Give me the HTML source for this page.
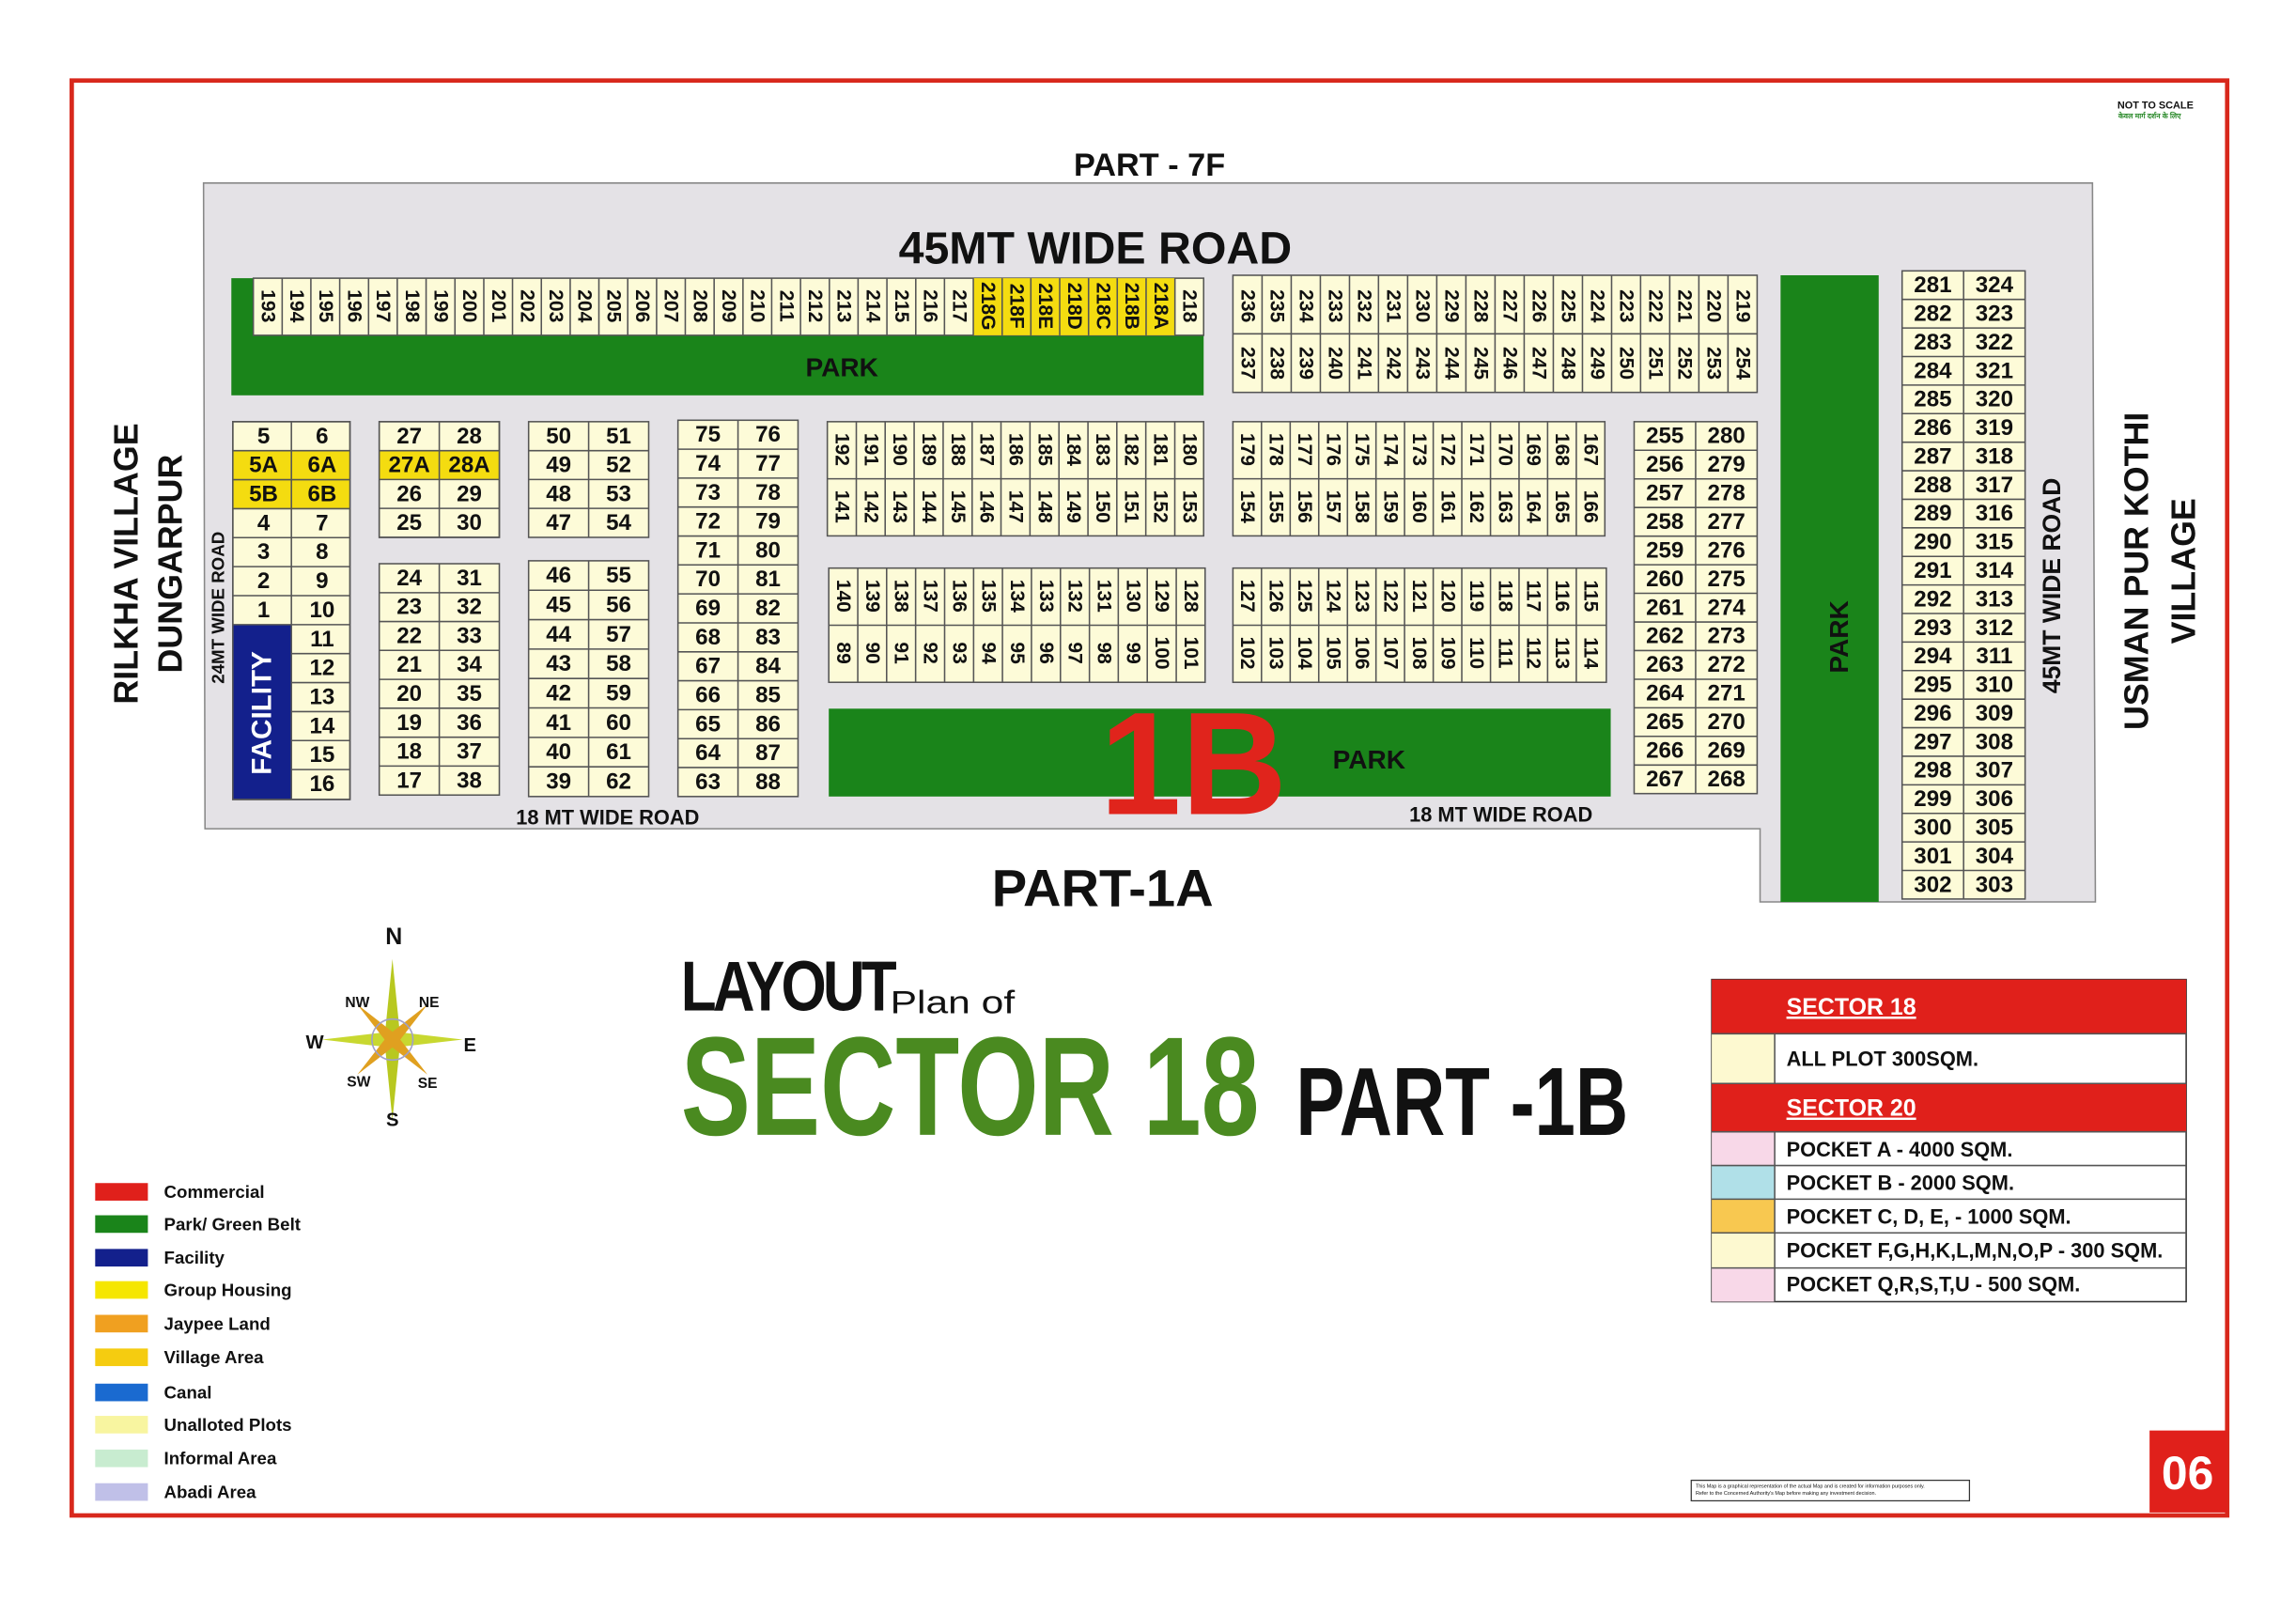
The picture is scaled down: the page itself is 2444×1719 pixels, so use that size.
<!DOCTYPE html>
<html><head><meta charset="utf-8"><style>
html,body{margin:0;padding:0;background:#fff}
svg{display:block}
text{font-family:"Liberation Sans",sans-serif;font-weight:bold;fill:#111}
.h{font-size:15.5px;text-anchor:middle;dominant-baseline:central}
.v{font-size:13.5px;text-anchor:middle;dominant-baseline:central}
.cell{fill:#fdfbd8;stroke:#555;stroke-width:1}
.grid{stroke:#555;stroke-width:1;fill:none}
.lg{font-size:12px;dominant-baseline:central}
</style></head><body>
<svg width="2444" height="1719" viewBox="0 0 1568 1103" preserveAspectRatio="none" xmlns="http://www.w3.org/2000/svg">
<rect x="0" y="0" width="1568" height="1103" fill="#fff"/>
<rect x="49" y="55" width="1472" height="980" fill="none" stroke="#d8281c" stroke-width="3"/>
<text x="1472" y="74" style="font-size:7px" text-anchor="middle">NOT TO SCALE</text>
<text x="1468" y="81" style="font-size:5px;fill:#2a8a2a" text-anchor="middle">केवल मार्ग दर्शन के लिए</text>
<text x="785" y="120" style="font-size:22px" text-anchor="middle">PART - 7F</text>
<polygon points="139,125 1429,125 1431,616 1202,616 1202,566 140,566" fill="#e4e2e6" stroke="#888" stroke-width="1"/>
<text x="748" y="180" style="font-size:31px" text-anchor="middle">45MT WIDE ROAD</text>

<!-- top row -->
<rect x="158" y="190" width="664" height="80" fill="#1a841a"/>
<rect x="173" y="190" width="649" height="39" class="cell"/>
<rect x="664.7" y="190" width="137.7" height="39" fill="#f4dc10"/>
<path class="grid" d="M192.7 190V229M212.3 190V229M232 190V229M251.7 190V229M271.3 190V229M291 190V229M310.7 190V229M330.4 190V229M350 190V229M369.7 190V229M389.4 190V229M409 190V229M428.7 190V229M448.4 190V229M468 190V229M487.7 190V229M507.4 190V229M527 190V229M546.7 190V229M566.4 190V229M586 190V229M605.7 190V229M625.4 190V229M645 190V229M664.7 190V229M684.4 190V229M704 190V229M723.7 190V229M743.4 190V229M763 190V229M782.7 190V229M802.4 190V229"/>
<g class="v">
<text class="v" transform="translate(182.8,209) rotate(90)">193</text><text class="v" transform="translate(202.5,209) rotate(90)">194</text><text class="v" transform="translate(222.2,209) rotate(90)">195</text><text class="v" transform="translate(241.8,209) rotate(90)">196</text><text class="v" transform="translate(261.5,209) rotate(90)">197</text><text class="v" transform="translate(281.2,209) rotate(90)">198</text><text class="v" transform="translate(300.8,209) rotate(90)">199</text><text class="v" transform="translate(320.5,209) rotate(90)">200</text><text class="v" transform="translate(340.2,209) rotate(90)">201</text><text class="v" transform="translate(359.8,209) rotate(90)">202</text><text class="v" transform="translate(379.5,209) rotate(90)">203</text><text class="v" transform="translate(399.2,209) rotate(90)">204</text><text class="v" transform="translate(418.8,209) rotate(90)">205</text><text class="v" transform="translate(438.5,209) rotate(90)">206</text><text class="v" transform="translate(458.2,209) rotate(90)">207</text><text class="v" transform="translate(477.9,209) rotate(90)">208</text><text class="v" transform="translate(497.5,209) rotate(90)">209</text><text class="v" transform="translate(517.2,209) rotate(90)">210</text><text class="v" transform="translate(536.9,209) rotate(90)">211</text><text class="v" transform="translate(556.5,209) rotate(90)">212</text><text class="v" transform="translate(576.2,209) rotate(90)">213</text><text class="v" transform="translate(595.9,209) rotate(90)">214</text><text class="v" transform="translate(615.5,209) rotate(90)">215</text><text class="v" transform="translate(635.2,209) rotate(90)">216</text><text class="v" transform="translate(654.9,209) rotate(90)">217</text><text class="v" transform="translate(674.5,209) rotate(90)">218G</text><text class="v" transform="translate(694.2,209) rotate(90)">218F</text><text class="v" transform="translate(713.9,209) rotate(90)">218E</text><text class="v" transform="translate(733.6,209) rotate(90)">218D</text><text class="v" transform="translate(753.2,209) rotate(90)">218C</text><text class="v" transform="translate(772.9,209) rotate(90)">218B</text><text class="v" transform="translate(792.6,209) rotate(90)">218A</text><text class="v" transform="translate(812.2,209) rotate(90)">218</text>
</g>
<text x="575" y="257" style="font-size:18px" text-anchor="middle">PARK</text>

<!-- right top block -->
<rect x="842" y="188" width="358" height="80" class="cell"/>
<path class="grid" d="M842 228H1200M861.9 188V268M881.8 188V268M901.7 188V268M921.6 188V268M941.4 188V268M961.3 188V268M981.2 188V268M1001.1 188V268M1021 188V268M1040.9 188V268M1060.8 188V268M1080.7 188V268M1100.6 188V268M1120.4 188V268M1140.3 188V268M1160.2 188V268M1180.1 188V268"/>
<text class="v" transform="translate(852,209) rotate(90)">236</text><text class="v" transform="translate(871.9,209) rotate(90)">235</text><text class="v" transform="translate(891.8,209) rotate(90)">234</text><text class="v" transform="translate(911.7,209) rotate(90)">233</text><text class="v" transform="translate(931.6,209) rotate(90)">232</text><text class="v" transform="translate(951.5,209) rotate(90)">231</text><text class="v" transform="translate(971.3,209) rotate(90)">230</text><text class="v" transform="translate(991.2,209) rotate(90)">229</text><text class="v" transform="translate(1011.1,209) rotate(90)">228</text><text class="v" transform="translate(1031,209) rotate(90)">227</text><text class="v" transform="translate(1050.9,209) rotate(90)">226</text><text class="v" transform="translate(1070.8,209) rotate(90)">225</text><text class="v" transform="translate(1090.7,209) rotate(90)">224</text><text class="v" transform="translate(1110.6,209) rotate(90)">223</text><text class="v" transform="translate(1130.4,209) rotate(90)">222</text><text class="v" transform="translate(1150.3,209) rotate(90)">221</text><text class="v" transform="translate(1170.2,209) rotate(90)">220</text><text class="v" transform="translate(1190.1,209) rotate(90)">219</text>
<text class="v" transform="translate(852,248) rotate(90)">237</text><text class="v" transform="translate(871.9,248) rotate(90)">238</text><text class="v" transform="translate(891.8,248) rotate(90)">239</text><text class="v" transform="translate(911.7,248) rotate(90)">240</text><text class="v" transform="translate(931.6,248) rotate(90)">241</text><text class="v" transform="translate(951.5,248) rotate(90)">242</text><text class="v" transform="translate(971.3,248) rotate(90)">243</text><text class="v" transform="translate(991.2,248) rotate(90)">244</text><text class="v" transform="translate(1011.1,248) rotate(90)">245</text><text class="v" transform="translate(1031,248) rotate(90)">246</text><text class="v" transform="translate(1050.9,248) rotate(90)">247</text><text class="v" transform="translate(1070.8,248) rotate(90)">248</text><text class="v" transform="translate(1090.7,248) rotate(90)">249</text><text class="v" transform="translate(1110.6,248) rotate(90)">250</text><text class="v" transform="translate(1130.4,248) rotate(90)">251</text><text class="v" transform="translate(1150.3,248) rotate(90)">252</text><text class="v" transform="translate(1170.2,248) rotate(90)">253</text><text class="v" transform="translate(1190.1,248) rotate(90)">254</text>

<!-- right park -->
<rect x="1216" y="188" width="67" height="428" fill="#1a841a"/>
<text transform="translate(1262,435) rotate(-90)" style="font-size:18px" text-anchor="middle">PARK</text>

<!-- Block A 192..180 -->
<rect x="565" y="288" width="257" height="78" class="cell"/>
<path class="grid" d="M565 327H822M584.8 288V366M604.5 288V366M624.3 288V366M644.1 288V366M663.9 288V366M683.6 288V366M703.4 288V366M723.2 288V366M743 288V366M762.7 288V366M782.5 288V366M802.3 288V366"/>
<text class="v" transform="translate(574.9,307) rotate(90)">192</text><text class="v" transform="translate(594.7,307) rotate(90)">191</text><text class="v" transform="translate(614.4,307) rotate(90)">190</text><text class="v" transform="translate(634.2,307) rotate(90)">189</text><text class="v" transform="translate(654,307) rotate(90)">188</text><text class="v" transform="translate(673.8,307) rotate(90)">187</text><text class="v" transform="translate(693.5,307) rotate(90)">186</text><text class="v" transform="translate(713.3,307) rotate(90)">185</text><text class="v" transform="translate(733.1,307) rotate(90)">184</text><text class="v" transform="translate(752.9,307) rotate(90)">183</text><text class="v" transform="translate(772.6,307) rotate(90)">182</text><text class="v" transform="translate(792.4,307) rotate(90)">181</text><text class="v" transform="translate(812.2,307) rotate(90)">180</text>
<text class="v" transform="translate(574.9,346) rotate(90)">141</text><text class="v" transform="translate(594.7,346) rotate(90)">142</text><text class="v" transform="translate(614.4,346) rotate(90)">143</text><text class="v" transform="translate(634.2,346) rotate(90)">144</text><text class="v" transform="translate(654,346) rotate(90)">145</text><text class="v" transform="translate(673.8,346) rotate(90)">146</text><text class="v" transform="translate(693.5,346) rotate(90)">147</text><text class="v" transform="translate(713.3,346) rotate(90)">148</text><text class="v" transform="translate(733.1,346) rotate(90)">149</text><text class="v" transform="translate(752.9,346) rotate(90)">150</text><text class="v" transform="translate(772.6,346) rotate(90)">151</text><text class="v" transform="translate(792.4,346) rotate(90)">152</text><text class="v" transform="translate(812.2,346) rotate(90)">153</text>

<!-- Block B 179..167 -->
<rect x="842" y="288" width="254" height="78" class="cell"/>
<path class="grid" d="M842 327H1096M861.5 288V366M881.1 288V366M900.6 288V366M920.2 288V366M939.7 288V366M959.2 288V366M978.8 288V366M998.3 288V366M1017.9 288V366M1037.4 288V366M1056.9 288V366M1076.5 288V366"/>
<text class="v" transform="translate(851.8,307) rotate(90)">179</text><text class="v" transform="translate(871.3,307) rotate(90)">178</text><text class="v" transform="translate(890.9,307) rotate(90)">177</text><text class="v" transform="translate(910.4,307) rotate(90)">176</text><text class="v" transform="translate(929.9,307) rotate(90)">175</text><text class="v" transform="translate(949.5,307) rotate(90)">174</text><text class="v" transform="translate(969,307) rotate(90)">173</text><text class="v" transform="translate(988.6,307) rotate(90)">172</text><text class="v" transform="translate(1008.1,307) rotate(90)">171</text><text class="v" transform="translate(1027.7,307) rotate(90)">170</text><text class="v" transform="translate(1047.2,307) rotate(90)">169</text><text class="v" transform="translate(1066.7,307) rotate(90)">168</text><text class="v" transform="translate(1086.3,307) rotate(90)">167</text>
<text class="v" transform="translate(851.8,346) rotate(90)">154</text><text class="v" transform="translate(871.3,346) rotate(90)">155</text><text class="v" transform="translate(890.9,346) rotate(90)">156</text><text class="v" transform="translate(910.4,346) rotate(90)">157</text><text class="v" transform="translate(929.9,346) rotate(90)">158</text><text class="v" transform="translate(949.5,346) rotate(90)">159</text><text class="v" transform="translate(969,346) rotate(90)">160</text><text class="v" transform="translate(988.6,346) rotate(90)">161</text><text class="v" transform="translate(1008.1,346) rotate(90)">162</text><text class="v" transform="translate(1027.7,346) rotate(90)">163</text><text class="v" transform="translate(1047.2,346) rotate(90)">164</text><text class="v" transform="translate(1066.7,346) rotate(90)">165</text><text class="v" transform="translate(1086.3,346) rotate(90)">166</text>

<!-- Block C 140..128 -->
<rect x="566" y="388" width="257" height="78" class="cell"/>
<path class="grid" d="M566 427H823M585.8 388V466M605.5 388V466M625.3 388V466M645.1 388V466M664.9 388V466M684.6 388V466M704.4 388V466M724.2 388V466M744 388V466M763.7 388V466M783.5 388V466M803.3 388V466"/>
<text class="v" transform="translate(575.9,407) rotate(90)">140</text><text class="v" transform="translate(595.7,407) rotate(90)">139</text><text class="v" transform="translate(615.4,407) rotate(90)">138</text><text class="v" transform="translate(635.2,407) rotate(90)">137</text><text class="v" transform="translate(655,407) rotate(90)">136</text><text class="v" transform="translate(674.8,407) rotate(90)">135</text><text class="v" transform="translate(694.5,407) rotate(90)">134</text><text class="v" transform="translate(714.3,407) rotate(90)">133</text><text class="v" transform="translate(734.1,407) rotate(90)">132</text><text class="v" transform="translate(753.9,407) rotate(90)">131</text><text class="v" transform="translate(773.6,407) rotate(90)">130</text><text class="v" transform="translate(793.4,407) rotate(90)">129</text><text class="v" transform="translate(813.2,407) rotate(90)">128</text>
<text class="v" transform="translate(575.9,446) rotate(90)">89</text><text class="v" transform="translate(595.7,446) rotate(90)">90</text><text class="v" transform="translate(615.4,446) rotate(90)">91</text><text class="v" transform="translate(635.2,446) rotate(90)">92</text><text class="v" transform="translate(655,446) rotate(90)">93</text><text class="v" transform="translate(674.8,446) rotate(90)">94</text><text class="v" transform="translate(694.5,446) rotate(90)">95</text><text class="v" transform="translate(714.3,446) rotate(90)">96</text><text class="v" transform="translate(734.1,446) rotate(90)">97</text><text class="v" transform="translate(753.9,446) rotate(90)">98</text><text class="v" transform="translate(773.6,446) rotate(90)">99</text><text class="v" transform="translate(793.4,446) rotate(90)">100</text><text class="v" transform="translate(813.2,446) rotate(90)">101</text>

<!-- Block D 127..115 -->
<rect x="842" y="388" width="255" height="78" class="cell"/>
<path class="grid" d="M842 427H1097M861.5 388V466M881.1 388V466M900.6 388V466M920.2 388V466M939.7 388V466M959.2 388V466M978.8 388V466M998.3 388V466M1017.9 388V466M1037.4 388V466M1056.9 388V466M1076.5 388V466"/>
<text class="v" transform="translate(851.8,407) rotate(90)">127</text><text class="v" transform="translate(871.3,407) rotate(90)">126</text><text class="v" transform="translate(890.9,407) rotate(90)">125</text><text class="v" transform="translate(910.4,407) rotate(90)">124</text><text class="v" transform="translate(929.9,407) rotate(90)">123</text><text class="v" transform="translate(949.5,407) rotate(90)">122</text><text class="v" transform="translate(969,407) rotate(90)">121</text><text class="v" transform="translate(988.6,407) rotate(90)">120</text><text class="v" transform="translate(1008.1,407) rotate(90)">119</text><text class="v" transform="translate(1027.7,407) rotate(90)">118</text><text class="v" transform="translate(1047.2,407) rotate(90)">117</text><text class="v" transform="translate(1066.7,407) rotate(90)">116</text><text class="v" transform="translate(1086.3,407) rotate(90)">115</text>
<text class="v" transform="translate(851.8,446) rotate(90)">102</text><text class="v" transform="translate(871.3,446) rotate(90)">103</text><text class="v" transform="translate(890.9,446) rotate(90)">104</text><text class="v" transform="translate(910.4,446) rotate(90)">105</text><text class="v" transform="translate(929.9,446) rotate(90)">106</text><text class="v" transform="translate(949.5,446) rotate(90)">107</text><text class="v" transform="translate(969,446) rotate(90)">108</text><text class="v" transform="translate(988.6,446) rotate(90)">109</text><text class="v" transform="translate(1008.1,446) rotate(90)">110</text><text class="v" transform="translate(1027.7,446) rotate(90)">111</text><text class="v" transform="translate(1047.2,446) rotate(90)">112</text><text class="v" transform="translate(1066.7,446) rotate(90)">113</text><text class="v" transform="translate(1086.3,446) rotate(90)">114</text>

<!-- bottom park + 1B -->
<rect x="566" y="484" width="534" height="60" fill="#1a841a"/>
<text x="815" y="556" style="font-size:100px;fill:#e0241c" text-anchor="middle">1B</text>
<text x="935" y="525" style="font-size:18px" text-anchor="middle">PARK</text>

<!-- Block 5/6 -->
<rect x="159" y="288" width="80" height="258" class="cell"/>
<rect x="159" y="307.8" width="80" height="39.6" fill="#f4dc10"/>
<rect x="159" y="427" width="40" height="119" fill="#13208c"/>
<path class="grid" d="M159 288H239V546H159ZM199 288V546M159 307.8H239M159 327.6H239M159 347.4H239M159 367.2H239M159 387H239M159 406.8H239M159 426.6H239M199 446.4H239M199 466.2H239M199 486H239M199 505.8H239M199 525.6H239"/>
<text class="h" x="180" y="297.9">5</text><text class="h" x="220" y="297.9">6</text>
<text class="h" x="180" y="317.7">5A</text><text class="h" x="220" y="317.7">6A</text>
<text class="h" x="180" y="337.5">5B</text><text class="h" x="220" y="337.5">6B</text>
<text class="h" x="180" y="357.3">4</text><text class="h" x="220" y="357.3">7</text>
<text class="h" x="180" y="377.1">3</text><text class="h" x="220" y="377.1">8</text>
<text class="h" x="180" y="396.9">2</text><text class="h" x="220" y="396.9">9</text>
<text class="h" x="180" y="416.7">1</text><text class="h" x="220" y="416.7">10</text>
<text class="h" x="220" y="436.5">11</text><text class="h" x="220" y="456.3">12</text><text class="h" x="220" y="476.1">13</text><text class="h" x="220" y="495.9">14</text><text class="h" x="220" y="515.7">15</text><text class="h" x="220" y="535.5">16</text>
<text transform="translate(179,487) rotate(-90)" style="font-size:19px;fill:#fff" text-anchor="middle" dominant-baseline="central">FACILITY</text>

<!-- Block 27 -->
<rect x="259" y="288" width="82" height="79" class="cell"/>
<rect x="259" y="307.8" width="82" height="19.7" fill="#f4dc10"/>
<path class="grid" d="M259 288H341V367H259ZM300 288V367M259 307.8H341M259 327.5H341M259 347.2H341"/>
<text class="h" x="279.5" y="297.9">27</text><text class="h" x="320.5" y="297.9">28</text>
<text class="h" x="279.5" y="317.6">27A</text><text class="h" x="320.5" y="317.6">28A</text>
<text class="h" x="279.5" y="337.4">26</text><text class="h" x="320.5" y="337.4">29</text>
<text class="h" x="279.5" y="357.1">25</text><text class="h" x="320.5" y="357.1">30</text>
<!-- Block 24 -->
<rect x="259" y="385" width="82" height="158" class="cell"/>
<path class="grid" d="M300 385V543M259 404.8H341M259 424.5H341M259 444.2H341M259 464H341M259 483.7H341M259 503.5H341M259 523.2H341"/>
<text class="h" x="279.5" y="394.9">24</text><text class="h" x="320.5" y="394.9">31</text>
<text class="h" x="279.5" y="414.6">23</text><text class="h" x="320.5" y="414.6">32</text>
<text class="h" x="279.5" y="434.4">22</text><text class="h" x="320.5" y="434.4">33</text>
<text class="h" x="279.5" y="454.1">21</text><text class="h" x="320.5" y="454.1">34</text>
<text class="h" x="279.5" y="473.9">20</text><text class="h" x="320.5" y="473.9">35</text>
<text class="h" x="279.5" y="493.6">19</text><text class="h" x="320.5" y="493.6">36</text>
<text class="h" x="279.5" y="513.4">18</text><text class="h" x="320.5" y="513.4">37</text>
<text class="h" x="279.5" y="533.1">17</text><text class="h" x="320.5" y="533.1">38</text>

<!-- Block 50 -->
<rect x="361" y="288" width="82" height="79" class="cell"/>
<path class="grid" d="M402 288V367M361 307.8H443M361 327.5H443M361 347.2H443"/>
<text class="h" x="381.5" y="297.9">50</text><text class="h" x="422.5" y="297.9">51</text>
<text class="h" x="381.5" y="317.6">49</text><text class="h" x="422.5" y="317.6">52</text>
<text class="h" x="381.5" y="337.4">48</text><text class="h" x="422.5" y="337.4">53</text>
<text class="h" x="381.5" y="357.1">47</text><text class="h" x="422.5" y="357.1">54</text>
<!-- Block 46 -->
<rect x="361" y="383" width="82" height="161" class="cell"/>
<path class="grid" d="M402 383V544M361 403.1H443M361 423.2H443M361 443.3H443M361 463.4H443M361 483.5H443M361 503.6H443M361 523.7H443"/>
<text class="h" x="381.5" y="393">46</text><text class="h" x="422.5" y="393">55</text>
<text class="h" x="381.5" y="413.2">45</text><text class="h" x="422.5" y="413.2">56</text>
<text class="h" x="381.5" y="433.3">44</text><text class="h" x="422.5" y="433.3">57</text>
<text class="h" x="381.5" y="453.4">43</text><text class="h" x="422.5" y="453.4">58</text>
<text class="h" x="381.5" y="473.5">42</text><text class="h" x="422.5" y="473.5">59</text>
<text class="h" x="381.5" y="493.6">41</text><text class="h" x="422.5" y="493.6">60</text>
<text class="h" x="381.5" y="513.7">40</text><text class="h" x="422.5" y="513.7">61</text>
<text class="h" x="381.5" y="533.8">39</text><text class="h" x="422.5" y="533.8">62</text>

<!-- Block 75 -->
<rect x="463" y="287" width="82" height="257" class="cell"/>
<path class="grid" d="M504 287V544M463 306.8H545M463 326.5H545M463 346.3H545M463 366.1H545M463 385.8H545M463 405.6H545M463 425.4H545M463 445.2H545M463 464.9H545M463 484.7H545M463 504.5H545M463 524.2H545"/>
<text class="h" x="483.5" y="296.9">75</text><text class="h" x="524.5" y="296.9">76</text>
<text class="h" x="483.5" y="316.6">74</text><text class="h" x="524.5" y="316.6">77</text>
<text class="h" x="483.5" y="336.4">73</text><text class="h" x="524.5" y="336.4">78</text>
<text class="h" x="483.5" y="356.2">72</text><text class="h" x="524.5" y="356.2">79</text>
<text class="h" x="483.5" y="375.9">71</text><text class="h" x="524.5" y="375.9">80</text>
<text class="h" x="483.5" y="395.7">70</text><text class="h" x="524.5" y="395.7">81</text>
<text class="h" x="483.5" y="415.5">69</text><text class="h" x="524.5" y="415.5">82</text>
<text class="h" x="483.5" y="435.3">68</text><text class="h" x="524.5" y="435.3">83</text>
<text class="h" x="483.5" y="455">67</text><text class="h" x="524.5" y="455">84</text>
<text class="h" x="483.5" y="474.8">66</text><text class="h" x="524.5" y="474.8">85</text>
<text class="h" x="483.5" y="494.6">65</text><text class="h" x="524.5" y="494.6">86</text>
<text class="h" x="483.5" y="514.4">64</text><text class="h" x="524.5" y="514.4">87</text>
<text class="h" x="483.5" y="534.1">63</text><text class="h" x="524.5" y="534.1">88</text>

<!-- Block 255 -->
<rect x="1116" y="288" width="84" height="254" class="cell"/>
<path class="grid" d="M1158 288V542M1116 307.5H1200M1116 327.1H1200M1116 346.6H1200M1116 366.2H1200M1116 385.7H1200M1116 405.2H1200M1116 424.8H1200M1116 444.3H1200M1116 463.9H1200M1116 483.4H1200M1116 502.9H1200M1116 522.5H1200"/>
<text class="h" x="1137" y="297.8">255</text><text class="h" x="1179" y="297.8">280</text>
<text class="h" x="1137" y="317.3">256</text><text class="h" x="1179" y="317.3">279</text>
<text class="h" x="1137" y="336.8">257</text><text class="h" x="1179" y="336.8">278</text>
<text class="h" x="1137" y="356.4">258</text><text class="h" x="1179" y="356.4">277</text>
<text class="h" x="1137" y="375.9">259</text><text class="h" x="1179" y="375.9">276</text>
<text class="h" x="1137" y="395.5">260</text><text class="h" x="1179" y="395.5">275</text>
<text class="h" x="1137" y="415">261</text><text class="h" x="1179" y="415">274</text>
<text class="h" x="1137" y="434.5">262</text><text class="h" x="1179" y="434.5">273</text>
<text class="h" x="1137" y="454.1">263</text><text class="h" x="1179" y="454.1">272</text>
<text class="h" x="1137" y="473.6">264</text><text class="h" x="1179" y="473.6">271</text>
<text class="h" x="1137" y="493.2">265</text><text class="h" x="1179" y="493.2">270</text>
<text class="h" x="1137" y="512.7">266</text><text class="h" x="1179" y="512.7">269</text>
<text class="h" x="1137" y="532.2">267</text><text class="h" x="1179" y="532.2">268</text>

<!-- Block 281 -->
<rect x="1299" y="185" width="84" height="429" class="cell"/>
<path class="grid" d="M1341 185V614M1299 204.5H1383M1299 224H1383M1299 243.5H1383M1299 263H1383M1299 282.5H1383M1299 302H1383M1299 321.5H1383M1299 341H1383M1299 360.5H1383M1299 380H1383M1299 399.5H1383M1299 419H1383M1299 438.5H1383M1299 458H1383M1299 477.5H1383M1299 497H1383M1299 516.5H1383M1299 536H1383M1299 555.5H1383M1299 575H1383M1299 594.5H1383"/>
<text class="h" x="1320" y="194.8">281</text><text class="h" x="1362" y="194.8">324</text>
<text class="h" x="1320" y="214.3">282</text><text class="h" x="1362" y="214.3">323</text>
<text class="h" x="1320" y="233.8">283</text><text class="h" x="1362" y="233.8">322</text>
<text class="h" x="1320" y="253.3">284</text><text class="h" x="1362" y="253.3">321</text>
<text class="h" x="1320" y="272.8">285</text><text class="h" x="1362" y="272.8">320</text>
<text class="h" x="1320" y="292.3">286</text><text class="h" x="1362" y="292.3">319</text>
<text class="h" x="1320" y="311.8">287</text><text class="h" x="1362" y="311.8">318</text>
<text class="h" x="1320" y="331.3">288</text><text class="h" x="1362" y="331.3">317</text>
<text class="h" x="1320" y="350.8">289</text><text class="h" x="1362" y="350.8">316</text>
<text class="h" x="1320" y="370.3">290</text><text class="h" x="1362" y="370.3">315</text>
<text class="h" x="1320" y="389.8">291</text><text class="h" x="1362" y="389.8">314</text>
<text class="h" x="1320" y="409.3">292</text><text class="h" x="1362" y="409.3">313</text>
<text class="h" x="1320" y="428.8">293</text><text class="h" x="1362" y="428.8">312</text>
<text class="h" x="1320" y="448.3">294</text><text class="h" x="1362" y="448.3">311</text>
<text class="h" x="1320" y="467.8">295</text><text class="h" x="1362" y="467.8">310</text>
<text class="h" x="1320" y="487.3">296</text><text class="h" x="1362" y="487.3">309</text>
<text class="h" x="1320" y="506.8">297</text><text class="h" x="1362" y="506.8">308</text>
<text class="h" x="1320" y="526.3">298</text><text class="h" x="1362" y="526.3">307</text>
<text class="h" x="1320" y="545.8">299</text><text class="h" x="1362" y="545.8">306</text>
<text class="h" x="1320" y="565.3">300</text><text class="h" x="1362" y="565.3">305</text>
<text class="h" x="1320" y="584.8">301</text><text class="h" x="1362" y="584.8">304</text>
<text class="h" x="1320" y="604.3">302</text><text class="h" x="1362" y="604.3">303</text>

<!-- road labels -->
<text x="415" y="563" style="font-size:14px" text-anchor="middle">18 MT WIDE  ROAD</text>
<text x="1025" y="561" style="font-size:14px" text-anchor="middle">18 MT WIDE  ROAD</text>
<text transform="translate(153,415) rotate(-90)" style="font-size:12px" text-anchor="middle">24MT WIDE ROAD</text>
<text transform="translate(94,385) rotate(-90)" style="font-size:23px" text-anchor="middle">RILKHA VILLAGE</text>
<text transform="translate(124,385) rotate(-90)" style="font-size:23px" text-anchor="middle">DUNGARPUR</text>
<text transform="translate(1407,400) rotate(-90)" style="font-size:17px" text-anchor="middle">45MT WIDE ROAD</text>
<text transform="translate(1467,390) rotate(-90)" style="font-size:23px" text-anchor="middle">USMAN PUR KOTHI</text>
<text transform="translate(1499,390) rotate(-90)" style="font-size:23px" text-anchor="middle">VILLAGE</text>
<text x="753" y="619" style="font-size:36px" text-anchor="middle">PART-1A</text>

<!-- compass -->
<g transform="translate(268,710)">
<polygon points="0,-55 5,-5 0,0 -5,-5" fill="#b8c820"/>
<polygon points="0,55 5,5 0,0 -5,5" fill="#b8c820"/>
<polygon points="-48,0 -5,-5 0,0 -5,5" fill="#c8d830"/>
<polygon points="48,0 5,-5 0,0 5,5" fill="#c8d830"/>
<polygon points="-24,-24 -3,3 3,-3" fill="#e0a020"/>
<polygon points="24,-24 3,3 -3,-3" fill="#e0a020"/>
<polygon points="-24,24 -3,-3 3,3" fill="#e0a020"/>
<polygon points="24,24 3,-3 -3,3" fill="#e0a020"/>
<circle r="14" fill="none" stroke="#a0a0c8" stroke-width="1"/>
</g>
<text x="269" y="645" style="font-size:16px" text-anchor="middle">N</text>
<text x="268" y="769" style="font-size:13px" text-anchor="middle">S</text>
<text x="215" y="716" style="font-size:13px" text-anchor="middle">W</text>
<text x="321" y="718" style="font-size:13px" text-anchor="middle">E</text>
<text x="244" y="688" style="font-size:10px" text-anchor="middle">NW</text>
<text x="293" y="688" style="font-size:10px" text-anchor="middle">NE</text>
<text x="245" y="742" style="font-size:10px" text-anchor="middle">SW</text>
<text x="292" y="743" style="font-size:10px" text-anchor="middle">SE</text>

<!-- title -->
<text x="465" y="690" style="font-size:48px;letter-spacing:-3px" textLength="145" lengthAdjust="spacingAndGlyphs">LAYOUT</text>
<text x="608" y="692" style="font-size:22px;font-weight:normal" textLength="85" lengthAdjust="spacingAndGlyphs">Plan of</text>
<text x="465" y="775" style="font-size:96px;fill:#4a8a20" textLength="395" lengthAdjust="spacingAndGlyphs">SECTOR 18</text>
<text x="885" y="775" style="font-size:66px" textLength="227" lengthAdjust="spacingAndGlyphs">PART -1B</text>

<!-- right legend table -->
<rect x="1169" y="669" width="324" height="220" fill="#fff" stroke="#333"/>
<rect x="1169" y="669" width="324" height="37" fill="#e0201b"/>
<rect x="1169" y="740" width="324" height="33" fill="#e0201b"/>
<rect x="1169" y="706" width="43" height="34" fill="#fdf9d0"/>
<rect x="1169" y="773" width="43" height="23" fill="#f8d8e8"/>
<rect x="1169" y="796" width="43" height="23" fill="#b0e0e8"/>
<rect x="1169" y="819" width="43" height="23" fill="#f8c850"/>
<rect x="1169" y="842" width="43" height="24" fill="#fdf9d0"/>
<rect x="1169" y="866" width="43" height="23" fill="#f8d8e8"/>
<path class="grid" d="M1169 706H1493M1169 740H1493M1169 773H1493M1169 796H1493M1169 819H1493M1169 842H1493M1169 866H1493M1212 706V740M1212 773V889"/>
<text x="1220" y="693" style="font-size:16px;fill:#fff;text-decoration:underline">SECTOR 18</text>
<text x="1220" y="762" style="font-size:16px;fill:#fff;text-decoration:underline">SECTOR 20</text>
<text x="1220" y="723" class="lg" style="font-size:14px">ALL PLOT  300SQM.</text>
<text x="1220" y="785" class="lg" style="font-size:14px">POCKET A   -  4000 SQM.</text>
<text x="1220" y="808" class="lg" style="font-size:14px">POCKET B   -  2000 SQM.</text>
<text x="1220" y="831" class="lg" style="font-size:14px">POCKET C, D, E, - 1000 SQM.</text>
<text x="1220" y="854" class="lg" style="font-size:14px">POCKET  F,G,H,K,L,M,N,O,P  - 300 SQM.</text>
<text x="1220" y="877" class="lg" style="font-size:14px">POCKET Q,R,S,T,U  -  500 SQM.</text>

<!-- bottom-left legend -->
<rect x="65" y="808" width="36" height="12" fill="#e0201b"/><text x="112" y="814" class="lg">Commercial</text>
<rect x="65" y="830" width="36" height="12" fill="#1a841a"/><text x="112" y="836" class="lg">Park/ Green Belt</text>
<rect x="65" y="853" width="36" height="12" fill="#13208c"/><text x="112" y="859" class="lg">Facility</text>
<rect x="65" y="875" width="36" height="12" fill="#f5e600"/><text x="112" y="881" class="lg">Group Housing</text>
<rect x="65" y="898" width="36" height="12" fill="#f0a020"/><text x="112" y="904" class="lg">Jaypee Land</text>
<rect x="65" y="921" width="36" height="12" fill="#f5cc10"/><text x="112" y="927" class="lg">Village Area</text>
<rect x="65" y="945" width="36" height="12" fill="#1a6ad0"/><text x="112" y="951" class="lg">Canal</text>
<rect x="65" y="967" width="36" height="12" fill="#f8f5a0"/><text x="112" y="973" class="lg">Unalloted Plots</text>
<rect x="65" y="990" width="36" height="12" fill="#c8ecd0"/><text x="112" y="996" class="lg">Informal Area</text>
<rect x="65" y="1013" width="36" height="12" fill="#c0c0e8"/><text x="112" y="1019" class="lg">Abadi Area</text>

<!-- disclaimer & page no -->
<rect x="1155" y="1011" width="190" height="14" fill="#fff" stroke="#333" stroke-width="0.8"/>
<text x="1158" y="1016" style="font-size:3.5px;font-weight:normal">This Map is a graphical representation of the actual Map and is created for information purposes only.</text>
<text x="1158" y="1021" style="font-size:3.5px;font-weight:normal">Refer to the Concerned Authority's Map before making any investment decision.</text>
<rect x="1468" y="977" width="53" height="56" fill="#e0201b"/>
<text x="1494" y="1017" style="font-size:32px;fill:#fff" text-anchor="middle">06</text>
</svg>
</body></html>
